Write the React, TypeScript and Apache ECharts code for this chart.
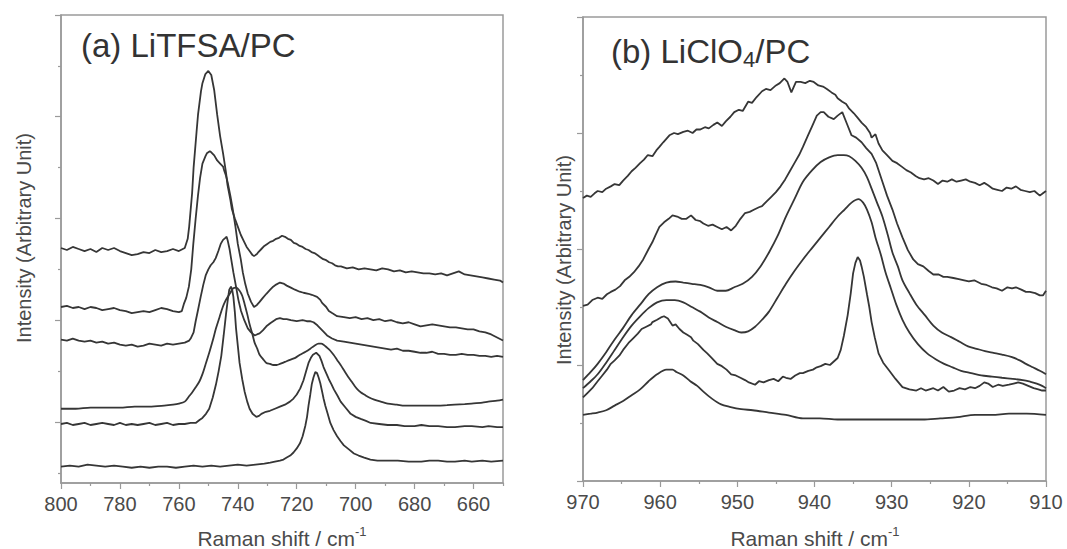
import React, { useEffect, useRef } from "react";
import * as echarts from "echarts";

// ---------- Panel (a) LiTFSA/PC : [Raman shift cm-1, intensity (arb.)] ----------
const litfsa1: number[][] = [[800,171],[798,169],[796,172],[794,170],[792,168],[790,170],[788,167],[786,171],[784,169],[782,171],[780,168],[778,166],[776,164],[774,165],[772,167],[770,166],[768,169],[766,167],[764,168],[762,170],[760,168],[758,171],[757,180],[756.5,192],[755.5,225],[755,250],[754,285],[753.5,302],[752.5,325],[752,333],[751,342],[750,345],[749,341],[748,326],[747,302],[746,281],[745,264],[744,245],[743.5,233],[742.5,218],[742,209],[741,200],[740,192],[739,184],[738,178],[737,172],[736,168],[735,164],[734.5,163],[733.5,165],[733,167],[732,170],[731,173],[730,175],[729,177],[728,178],[727,180],[726,181],[725,183],[724,182],[723,180],[722,179],[721,176],[720,175],[719,173],[718,172],[717,170],[716,169],[715,167],[714,166],[713,164],[712,162],[711,160],[710,159],[709,157],[708,156],[707,154],[706,153],[705,153],[703,151],[701,152],[699,150],[697,151],[695,150],[693,149],[691,151],[689,150],[687,148],[685,149],[683,147],[681,148],[679,147],[677,146],[675,146],[673,145],[671,146],[669,144],[667,146],[665,148],[663,145],[661,144],[659,143],[657,142],[655,141],[653,140],[651,139],[650,137]];
const litfsa2: number[][] = [[800,113],[798,114],[796,112],[794,113],[792,111],[790,113],[788,112],[786,110],[784,111],[782,112],[780,110],[778,109],[776,107],[774,108],[772,109],[770,108],[768,110],[766,112],[764,111],[762,109],[760,108],[759,109],[758.3,116],[757.5,122],[756.6,133],[755.8,150],[755.1,175],[754.3,200],[753.5,223],[752.8,240],[752,254],[751,261],[750.5,264],[749.5,266],[749,265],[748,262],[747,257],[746,254],[745,251],[744.6,247],[744,242],[743.4,235],[742.5,222],[741.7,209],[740.8,192],[740,175],[739,160],[738.3,147],[737.5,136],[736.6,126],[735.5,118],[734.5,113],[733.5,115],[732.6,118],[731.5,122],[730.3,126],[729,130],[728,133],[727,135],[725.7,137],[724.5,136],[723.4,134],[722,132],[720.6,130],[719,128],[717.7,127],[716,126],[714.9,125],[713.1,123],[712,120],[711.4,117],[710,113],[709.1,109],[708,107],[706.3,104],[704,103],[702,102],[700,103],[698,101],[696,102],[694,100],[692,101],[690,99],[688,100],[686,98],[684,97],[682,98],[680,96],[678,94],[676,95],[674,96],[672,95],[670,94],[668,93],[666,93],[664,92],[662,91],[660,91],[658,89],[656,88],[654,86],[652,83],[650,80]];
const litfsa3: number[][] = [[800,81],[798,80],[796,82],[794,80],[792,79],[790,80],[788,78],[786,79],[784,77],[782,78],[780,76],[778,75],[776,76],[774,74],[772,75],[770,77],[768,76],[766,75],[764,77],[762,76],[760,77],[758,78],[756.5,80],[756,82],[755,88],[754.3,99],[753.5,110],[752.6,123],[751.7,135],[750.9,144],[750,150],[749.2,154],[748.3,157],[747.5,161],[746.6,168],[745.8,175],[745,179],[744.2,181],[743.8,182],[743.4,178],[742.8,170],[742.3,161],[741.5,147],[740.6,133],[739.8,120],[738.9,109],[737.8,100],[736.6,92],[735.5,88],[734.3,85],[733.5,86],[732.6,87],[731.5,90],[730.3,94],[729,97],[728,99],[727,101],[725.7,102],[724.5,101],[723.4,101],[722,100],[720,99],[718,100],[716.6,99],[715.5,99],[714.3,98],[713,95],[712,92],[711,89],[709.7,85],[708,82],[706.3,80],[704,79],[702,78],[700,77],[698,76],[696,75],[694,74],[692,73],[690,72],[688,71],[686,72],[684,70],[682,70],[680,69],[678,68],[676,68],[674,69],[672,67],[670,67],[668,66],[666,66],[664,67],[662,66],[660,66],[658,65],[656,65],[654,64],[652,65],[650,64]];
const litfsa4: number[][] = [[800,13],[795,13],[790,14],[785,14],[780,14],[775,15],[770,15],[765,16],[762,17],[760,18],[758,20],[756.6,25],[755.5,29],[754.3,34],[753,40],[752,47],[751,56],[749.7,68],[748.5,80],[747.4,92],[746.2,103],[745.1,113],[744.2,119],[743.4,123],[742.5,127],[741.7,131],[740.6,132],[739.4,129],[738.5,124],[737.7,116],[736.8,106],[736,96],[735.1,87],[734.3,78],[733.4,72],[732.6,66],[731.5,62],[730.3,58],[729,57],[728,56],[726.8,56],[725.7,57],[724,59],[722.3,61],[720.5,63],[718.9,66],[717,69],[715.4,72],[714,75],[712.6,77],[711.7,77],[710.9,76],[709.7,73],[708.6,70],[707.5,66],[706.3,61],[705.1,56],[704,51],[702.9,46],[701.7,41],[700.5,36],[699.4,32],[698.2,29],[697.1,27],[695.4,24],[693.7,22],[691.5,20],[689.1,18],[686,17],[683.4,16],[680,16],[677.8,16],[675,16],[672.1,16],[669,16.5],[666.4,17],[663,17.5],[660.7,18],[657,19],[655,20],[652,21],[650,22]];
const litfsa5: number[][] = [[800,-2],[798,-1],[796,-3],[794,-2],[792,-1],[790,-3],[788,-2],[786,-1],[784,-2],[782,-3],[780,-1],[778,-3],[776,-2],[774,-3],[772,-2],[770,-1],[768,-3],[766,-2],[764,-1],[762,-3],[760,-2],[758,-2],[756,-1],[754.3,-1],[753,2],[752,4],[750.8,8],[749.7,13],[748.5,24],[747.4,37],[746.5,50],[745.6,65],[744.8,85],[744,106],[743.4,120],[742.9,130],[742.3,133],[741.9,130],[741.5,123],[741,108],[740.6,92],[740,75],[739.4,58],[738.5,42],[737.7,30],[736.8,20],[736,13],[735,8],[733.7,5],[732.8,6],[732,8],[730.5,10],[729.1,11],[727.4,13],[725.7,15],[724,17],[722.3,20],[721.1,23],[720,27],[718.8,33],[717.7,41],[716.8,50],[716,58],[715.2,63],[714.5,66],[713.4,68],[712.3,65],[711.6,60],[710.9,54],[710,48],[709.1,42],[708.2,37],[707.4,32],[706.2,26],[705.1,20],[703.4,14],[701.7,8],[700,5],[698.3,3],[696.5,1],[694.9,-1],[692,-2],[689.1,-3],[686,-3],[683.4,-4],[680,-4],[677.7,-3],[675,-4],[672,-4],[669,-5],[666.3,-5],[663,-4],[660.6,-4],[657,-5],[654.9,-4],[652,-5],[650,-5]];
const litfsa6: number[][] = [[800,-44],[797,-43],[794,-44],[791,-42],[788,-43],[785,-44],[782,-43],[779,-44],[776,-45],[773,-44],[770,-45],[767,-44],[764,-44],[761,-45],[758,-44],[755,-43],[752,-44],[749,-43],[746,-44],[743,-43],[740,-42],[737,-43],[734,-42],[731,-41],[729,-40],[727.4,-39],[725.7,-38],[724.5,-37],[723.4,-35],[722.2,-33],[721.1,-30],[720,-26],[718.9,-21],[718,-14],[717.1,-4],[716.5,5],[716,16],[715.4,27],[714.9,37],[714.3,44],[713.7,49],[713.1,48],[712.6,44],[712,38],[711.4,30],[710.9,23],[710.3,16],[709.5,8],[708.6,-1],[707.5,-8],[706.3,-14],[705.1,-19],[704,-23],[702.3,-27],[700.6,-31],[699,-33],[697.1,-35],[695,-37],[692.6,-38],[689,-38],[685.7,-38],[682,-39],[677.7,-39],[675,-38],[672,-38],[669,-39],[666.3,-39],[663,-38],[660.6,-39],[657,-38],[654,-39],[650,-38]];

// ---------- Panel (b) LiClO4/PC ----------
const liclo1: number[][] = [[970,244],[969.5,246],[969,245],[968.5,248],[968.1,250],[967.5,249],[967,252],[966.4,254],[965.9,256],[965.3,255],[964.8,259],[964.2,263],[963.7,267],[963.2,270],[962.6,274],[962.1,277],[961.6,281],[961,280],[960.5,285],[960.1,288],[959.6,292],[959.2,295],[958.8,298],[958.2,300],[957.7,299],[957,301],[956.4,302],[955.8,300],[955.3,303],[954.8,303],[954.2,305],[953.7,304],[953.1,307],[952.6,309],[952,306],[951.5,310],[950.9,314],[950.4,318],[949.8,320],[949.3,319],[948.6,327],[948.1,326],[947.5,331],[946.8,336],[946.3,338],[945.7,337],[945,341],[944.5,343],[943.9,347],[943.5,344],[943,335],[942.4,344],[941.8,344],[941.2,343],[940.6,345],[940.1,344],[939.5,341],[938.9,340],[938.4,338],[937.8,335],[937.3,333],[937,330],[936.4,327],[935.9,325],[935.5,321],[934.9,317],[934.4,313],[933.9,309],[933.3,305],[932.8,300],[932.6,296],[932.1,299],[931.7,291],[931.2,285],[930.6,281],[929.9,276],[929.3,274],[928.7,271],[928.1,268],[927.5,266],[926.9,263],[926.4,261],[925.8,260],[925.2,261],[924.6,259],[924,256],[923.4,259],[922.8,258],[922.2,260],[921.6,258],[921,259],[920.4,260],[919.8,258],[919.2,257],[918.6,255],[918,257],[917.5,255],[916.9,252],[916.3,251],[915.7,250],[915.1,253],[914.5,252],[913.9,254],[913.3,251],[912.7,250],[912.1,249],[911.5,250],[910.8,246],[910.4,248],[910,250]];
const liclo2: number[][] = [[970,151],[969.4,152],[968.8,156],[968.1,158],[967.5,157],[966.9,161],[966.4,163],[965.8,165],[965.2,168],[964.6,173],[964,176],[963.4,180],[962.8,185],[962.2,191],[961.5,200],[961,206],[960.6,212],[960.1,219],[959.5,223],[958.9,226],[958.4,229],[957.8,228],[957.2,226],[956.6,226],[956,229],[955.4,225],[954.8,224],[954.4,222],[953.8,220],[953.2,221],[952.6,219],[952,217],[951.4,219],[950.8,216],[950.2,220],[949.6,226],[949,231],[948.4,232],[947.8,234],[947.2,236],[946.8,237],[946.2,241],[945.6,245],[945,249],[944.4,254],[943.8,260],[943.2,267],[942.6,274],[942,281],[941.5,288],[940.9,297],[940.3,306],[939.7,315],[939.2,318],[938.8,318],[938.2,314],[937.5,312],[937,315],[936.4,318],[935.8,308],[935.2,298],[934.6,296],[933.9,292],[933.3,287],[932.6,282],[932,274],[931.2,258],[930.6,246],[929.9,234],[929.3,222],[928.6,210],[927.9,199],[927.2,191],[926.6,187],[925.9,185],[925.2,181],[924.6,178],[923.9,178],[923.3,176],[922.8,176],[922,175],[921.3,174],[920.6,173],[920,172],[919.3,173],[918.4,170],[917.7,169],[917,167],[916.4,166],[915.7,164],[915,167],[914.4,166],[913.9,167],[913.2,165],[912.6,163],[912.1,163],[911.4,162],[910.8,160],[910.4,160],[910,164]];
const liclo3: number[][] = [[970,87],[969,94],[968.1,101],[967,111],[965.9,122],[964.8,132],[963.7,143],[962.6,152],[961.5,161],[960.4,167],[959.2,171],[958,172],[957,171],[955.9,170],[954.8,169],[953.7,167],[952.6,164],[951.5,164],[950.4,167],[949.3,170],[948.1,176],[947,185],[945.9,197],[944.8,211],[943.7,228],[942.6,243],[941.5,258],[940.3,268],[939.2,275],[938.1,279],[937,281],[936.2,281],[935.5,280],[934.7,276],[933.9,270],[933.2,262],[932.6,252],[931.9,240],[931.2,228],[930.5,212],[929.9,197],[929.2,185],[928.6,173],[927.7,162],[926.8,152],[925.7,143],[924.6,134],[923.5,128],[922.3,124],[921.2,120],[920.1,116],[919,114],[917.9,112],[916.8,110.5],[915.7,109],[914.5,107],[913.4,104],[912.6,101],[911.7,98],[910.8,95],[910,92]];
const liclo4: number[][] = [[970,80],[969,86],[968.1,92],[967,102],[965.9,113],[964.8,124],[963.7,134],[962.6,142],[961.5,149],[960.4,154],[959.2,156],[958.1,156],[957,154],[955.9,150],[954.8,146],[953.7,141],[952.6,137],[951.5,133],[950.4,130],[949.5,128],[948.6,129],[947.7,133],[946.8,139],[945.9,146],[944.8,158],[943.7,170],[942.6,181],[941.5,191],[940.3,201],[939.2,210],[938.1,219],[937,228],[936.1,234],[935.2,240],[934.3,243],[933.7,240],[933.2,234],[932.6,223],[932.1,210],[931.4,195],[930.8,180],[930.1,166],[929.4,152],[928.6,139],[927.7,128],[926.6,118],[925.4,110],[924.3,105],[923.2,101],[922.1,98],[921,95],[919.7,93],[918.4,91],[917,90],[915.7,89],[914.3,88],[913,87],[912,85.5],[911.2,84],[910.5,82],[910,80]];
const liclo5: number[][] = [[970,72],[969.4,76],[968.8,80],[968.1,86],[967.5,91],[966.9,96],[966.4,101],[965.9,104],[965.3,108],[964.8,113],[964.1,119],[963.5,123],[962.9,127],[962.4,131],[961.8,133],[961.2,135],[961,137],[960.4,139],[959.9,141],[959.5,142],[959,140],[958.4,134],[958,135],[957.5,131],[957,128],[956.5,126],[956,124],[955.7,121],[955.1,118],[954.4,113],[953.9,110],[953.3,106],[952.6,101],[952,99],[951.4,96],[950.8,92],[950.2,91],[949.6,89],[949,87],[948.5,85],[947.7,83],[947.2,86],[946.6,85],[945.9,87],[945.3,88],[944.7,86],[944.1,90],[943.7,89],[943.1,88],[942.5,91],[941.9,93],[941.5,93],[940.8,95],[940.2,96],[939.7,98],[939.2,99],[938.6,101],[938,100],[937.5,103],[937,106],[936.6,113],[936.2,125],[935.7,143],[935.3,162],[935,179],[934.7,188],[934.4,193],[934.1,190],[933.9,185],[933.6,176],[933.2,161],[932.9,150],[932.6,137],[932.2,124],[931.7,110],[931.1,102],[930.3,95],[929.5,88],[928.6,81],[927.7,79],[926.8,78],[926.2,80],[925.6,78],[924.6,80],[924,78],[923.3,81],[922.6,77],[921.9,78],[921.2,80],[920.5,79],[919.8,81],[919.2,80],[918.6,82],[918,85],[917.5,84],[916.9,81],[916.2,83],[915.6,82],[914.8,83],[914.2,84],[913.6,85],[913,84],[912.3,82],[911.6,80],[911,79],[910.5,78],[910,78]];
const liclo6: number[][] = [[970,57],[969,58],[968.1,59],[967,61],[965.9,65],[964.8,69],[963.7,74],[962.6,79],[961.5,86],[960.4,92],[959.2,96],[958.4,96],[957.9,94],[957,91],[956.1,86],[955.2,82],[954.4,77],[953.3,71],[952.1,66],[951,64],[949.5,62],[948,61],[945.9,59],[943.7,57],[941.5,54],[939.3,54],[937,53],[934.8,53],[932.6,53],[930.4,53],[928.1,53],[926,53],[923.7,54],[921.5,55],[919.2,57],[917,57],[914.8,58],[912.5,58],[910,57]];

// ---------- tick values ----------
const leftXMajor = [800, 780, 760, 740, 720, 700, 680, 660];
const leftXMinor = [790, 770, 750, 730, 710, 690, 670, 650];
const leftYMajor = [0, 100, 200, 300, 400];
const leftYMinor = [-50, 50, 150, 250, 350];

const FONT = '"Liberation Sans", Arial, Helvetica, sans-serif';
const AXIS_COLOR = "#9a9a9a";
const LINE_COLOR = "#363636";
const TEXT_COLOR = "#4a4a4a";

export default function App() {
  const ref = useRef<HTMLDivElement>(null);
  useEffect(() => {
    document.body.style.margin = "0";
    const chart = echarts.init(ref.current!, undefined, { renderer: "svg" });
    const axisLineStyle = { color: AXIS_COLOR, width: 1.5 };
    const tickLine = { color: AXIS_COLOR, width: 1.2 };
    const mkSeries = (data: number[][], xi: number, yi: number, smooth: boolean) => ({
      type: "line",
      data,
      xAxisIndex: xi,
      yAxisIndex: yi,
      showSymbol: false,
      smooth: smooth ? 0.3 : false,
      lineStyle: { color: LINE_COLOR, width: 1.8 },
      silent: true,
    });
    const labelStyle = { color: TEXT_COLOR, fontSize: 20, fontFamily: FONT, margin: 11 };
    const option: any = {
      animation: false,
      grid: [
        { left: 61, top: 15, width: 442, height: 468, show: true, borderColor: AXIS_COLOR, borderWidth: 1.5, backgroundColor: "transparent" },
        { left: 583, top: 17, width: 463, height: 464, show: true, borderColor: AXIS_COLOR, borderWidth: 1.5, backgroundColor: "transparent" },
      ],
      xAxis: [
        {
          gridIndex: 0, type: "value", position: "bottom", min: 650, max: 800, inverse: true,
          axisLine: { show: true, onZero: false, lineStyle: axisLineStyle },
          axisTick: { show: true, customValues: leftXMajor, length: 6, lineStyle: tickLine },
          axisLabel: { show: true, customValues: leftXMajor, ...labelStyle },
          splitLine: { show: false },
        },
        {
          gridIndex: 0, type: "value", position: "bottom", min: 650, max: 800, inverse: true,
          axisLine: { show: false, onZero: false },
          axisTick: { show: true, customValues: leftXMinor, length: 3, lineStyle: tickLine },
          axisLabel: { show: false },
          splitLine: { show: false },
        },
        {
          gridIndex: 1, type: "value", position: "bottom", min: 910, max: 970, interval: 10, inverse: true,
          axisLine: { show: true, onZero: false, lineStyle: axisLineStyle },
          axisTick: { show: true, length: 6, lineStyle: tickLine },
          minorTick: { show: true, splitNumber: 2, length: 3, lineStyle: tickLine },
          axisLabel: { show: true, ...labelStyle },
          splitLine: { show: false },
          minorSplitLine: { show: false },
        },
      ],
      yAxis: [
        {
          gridIndex: 0, type: "value", position: "left", min: -60, max: 400,
          axisLine: { show: true, onZero: false, lineStyle: axisLineStyle },
          axisTick: { show: true, customValues: leftYMajor, length: 6, lineStyle: tickLine },
          axisLabel: { show: false },
          splitLine: { show: false },
        },
        {
          gridIndex: 0, type: "value", position: "left", min: -60, max: 400,
          axisLine: { show: false, onZero: false },
          axisTick: { show: true, customValues: leftYMinor, length: 3, lineStyle: tickLine },
          axisLabel: { show: false },
          splitLine: { show: false },
        },
        {
          gridIndex: 1, type: "value", position: "left", min: 0, max: 400, interval: 100,
          axisLine: { show: true, onZero: false, lineStyle: axisLineStyle },
          axisTick: { show: true, length: 6, lineStyle: tickLine },
          minorTick: { show: true, splitNumber: 2, length: 3, lineStyle: tickLine },
          axisLabel: { show: false },
          splitLine: { show: false },
          minorSplitLine: { show: false },
        },
      ],
      series: [
        mkSeries(litfsa1, 0, 0, false),
        mkSeries(litfsa2, 0, 0, false),
        mkSeries(litfsa3, 0, 0, false),
        mkSeries(litfsa4, 0, 0, true),
        mkSeries(litfsa5, 0, 0, false),
        mkSeries(litfsa6, 0, 0, false),
        mkSeries(liclo1, 2, 2, false),
        mkSeries(liclo2, 2, 2, false),
        mkSeries(liclo3, 2, 2, true),
        mkSeries(liclo4, 2, 2, true),
        mkSeries(liclo5, 2, 2, false),
        mkSeries(liclo6, 2, 2, true),
      ],
      graphic: [
        {
          type: "text", left: 81, top: 29,
          style: { text: "(a) LiTFSA/PC", font: `33px ${FONT}`, fill: "#333" },
        },
        {
          type: "text", left: 611, top: 35,
          style: {
            text: "{m|(b) LiClO}{s|4}{m|/PC}",
            rich: {
              m: { fontSize: 33, fontFamily: FONT, fill: "#333", lineHeight: 38 },
              s: { fontSize: 22, fontFamily: FONT, fill: "#333", lineHeight: 26, verticalAlign: "bottom" },
            },
          },
        },
        {
          type: "text", x: 282, y: 538,
          style: {
            text: "{m|Raman shift / cm}{s|-1}", textAlign: "center", textVerticalAlign: "middle",
            rich: {
              m: { fontSize: 21, fontFamily: FONT, fill: TEXT_COLOR, lineHeight: 26 },
              s: { fontSize: 13, fontFamily: FONT, fill: TEXT_COLOR, lineHeight: 15, verticalAlign: "top" },
            },
          },
        },
        {
          type: "text", x: 815, y: 538,
          style: {
            text: "{m|Raman shift / cm}{s|-1}", textAlign: "center", textVerticalAlign: "middle",
            rich: {
              m: { fontSize: 21, fontFamily: FONT, fill: TEXT_COLOR, lineHeight: 26 },
              s: { fontSize: 13, fontFamily: FONT, fill: TEXT_COLOR, lineHeight: 15, verticalAlign: "top" },
            },
          },
        },
        {
          type: "text", x: 24, y: 238, rotation: Math.PI / 2,
          style: { text: "Intensity (Arbitrary Unit)", textAlign: "center", textVerticalAlign: "middle", font: `20px ${FONT}`, fill: TEXT_COLOR },
        },
        {
          type: "text", x: 564, y: 260, rotation: Math.PI / 2,
          style: { text: "Intensity (Arbitrary Unit)", textAlign: "center", textVerticalAlign: "middle", font: `20px ${FONT}`, fill: TEXT_COLOR },
        },
      ],
    };
    chart.setOption(option);
    return () => chart.dispose();
  }, []);
  return <div ref={ref} style={{ width: 1067, height: 549 }} />;
}
